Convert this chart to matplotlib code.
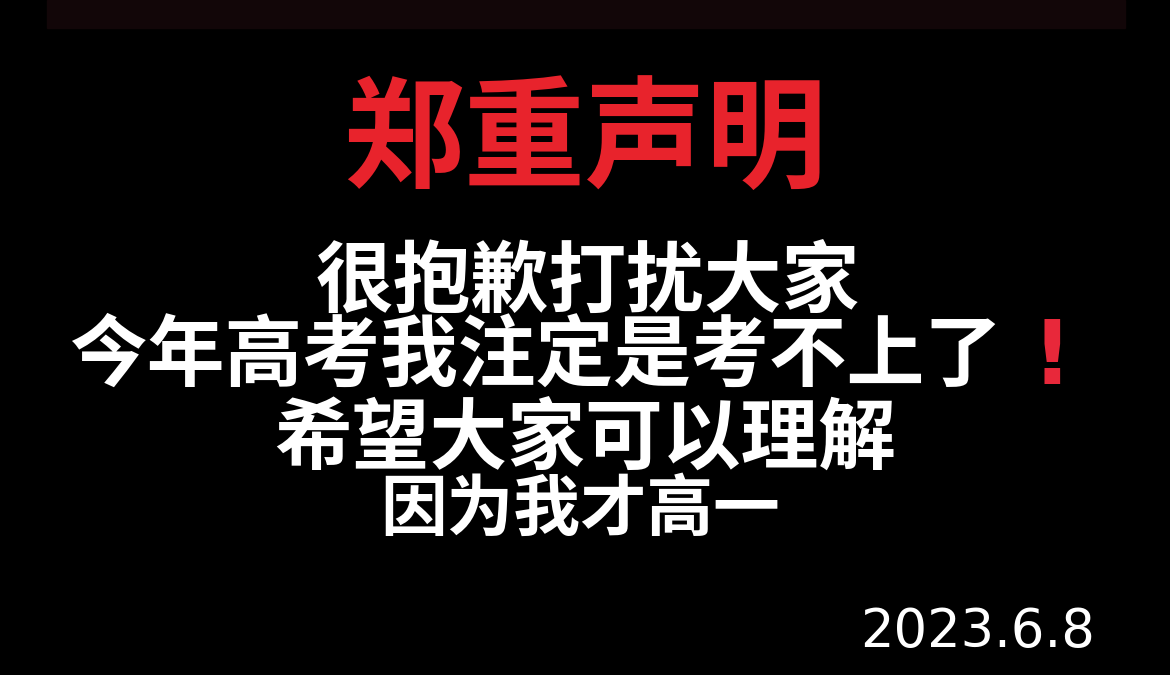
import matplotlib
matplotlib.use("Agg")
import matplotlib.pyplot as plt
from matplotlib.patches import Rectangle

title = "郑重声明"
lines = ["很抱歉打扰大家", "今年高考我注定是考不上了", "希望大家可以理解", "因为我才高一"]
date = "2023.6.8"

plt.rcParams['font.family'] = ['Noto Sans CJK SC', 'DejaVu Sans']
W, H = 1170, 675
fig = plt.figure(figsize=(11.7, 6.75), dpi=100, facecolor='black')
ax = fig.add_axes([0, 0, 1, 1])
ax.set_xlim(0, W); ax.set_ylim(H, 0); ax.axis('off')
ax.set_facecolor('black')
ax.add_patch(Rectangle((47, 0), 1078, 28, color='#120608'))

ax.text(585, 143, title, color='#e8232c', fontsize=87, fontweight='bold', ha='center', va='center')
ys = [283, 357, 440, 510]
sizes = [56, 56, 56, 48]
xs = [588, 536, 585, 580]
for t, x, y, s in zip(lines, xs, ys, sizes):
    ax.text(x, y, t, color='white', fontsize=s, fontweight='bold', ha='center', va='center')
ax.text(1052, 360, "!", color='#e8283a', fontsize=64, fontweight='bold', ha='center', va='center',
        family='DejaVu Sans')
ax.text(1095, 632, date, color='white', fontsize=38, ha='right', va='center', family='DejaVu Sans')
fig.savefig('out.png', dpi=100, facecolor='black')
